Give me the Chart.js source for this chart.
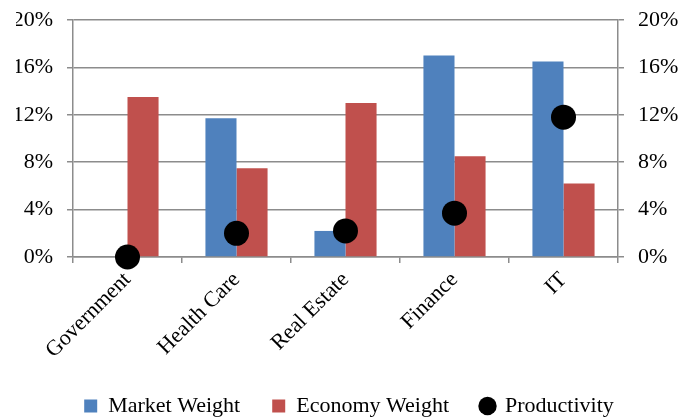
<!DOCTYPE html>
<html>
<head>
<meta charset="utf-8">
<script src="https://cdn.jsdelivr.net/npm/chart.js@4.4.1/dist/chart.umd.min.js"></script>
<style>
    html, body { margin: 0; padding: 0; background: #fff; }
    #wrap { width: 682px; height: 418px; }
</style>
</head>
<body>
<div id="wrap"><canvas id="weights"></canvas></div>
<script>
var sectors = ["Government", "Health Care", "Real Estate", "Finance", "IT"];
var marketWeight = [0, 11.7, 2.2, 17.0, 16.5];
var economyWeight = [13.5, 7.5, 13.0, 8.5, 6.2];
var productivity = [0, 2.0, 2.2, 3.7, 11.8];
var tickValues = [0, 4, 8, 12, 16, 20];

var serif = "'Liberation Serif', 'DejaVu Serif', serif";
var gridGray = "#8c8c8c";

function pct(v) { return v + '%'; }

// same look for both value axes
function valueAxis(side, width) {
    return {
        type: 'linear',
        position: side,
        min: 0,
        max: 20,
        afterBuildTicks: function(axis) {
            axis.ticks = tickValues.map(function(v) { return { value: v }; });
        },
        afterFit: function(axis) {
            axis.width = width;
            axis.paddingTop = 0;
            axis.paddingBottom = 0;
        },
        ticks: {
            callback: pct,
            color: '#000',
            padding: 14,
            font: { family: serif, size: 22 }
        },
        grid: {
            color: gridGray,
            lineWidth: 1.5,
            tickLength: 6,
            drawOnChartArea: side === 'left'
        },
        border: { color: gridGray, width: 1.5 }
    };
}

var ctx = document.getElementById('weights');
var myChart = new Chart(ctx, {
    type: 'bar',
    data: {
        labels: sectors,
        datasets: [
            {
                label: "Market Weight",
                backgroundColor: "#4f81bd",
                pointStyle: 'rect',
                data: marketWeight,
                order: 1
            },
            {
                label: "Economy Weight",
                backgroundColor: "#c0504d",
                pointStyle: 'rect',
                data: economyWeight,
                order: 1
            },
            {
                type: 'line',
                label: "Productivity",
                data: productivity,
                showLine: false,
                pointStyle: 'circle',
                pointRadius: 12.5,
                pointHoverRadius: 12.5,
                pointBackgroundColor: "#000",
                pointBorderWidth: 0,
                backgroundColor: "#000",
                borderColor: "#000",
                clip: false,
                order: 0
            }
        ]
    },
    options: {
        responsive: true,
        maintainAspectRatio: false,
        animation: false,
        // left padding nudges the legend right, like the original
        layout: { padding: { top: 20, left: 16, right: 0, bottom: -9 } },
        datasets: {
            bar: { barPercentage: 1, categoryPercentage: 0.57 }
        },
        scales: {
            x: {
                offset: true,
                afterFit: function(axis) { axis.height = 106; },
                ticks: {
                    color: '#000',
                    minRotation: 45,
                    maxRotation: 45,
                    padding: 4,
                    font: { family: serif, size: 22 }
                },
                grid: {
                    offset: true,
                    color: gridGray,
                    lineWidth: 1.5,
                    tickLength: 6,
                    drawOnChartArea: false
                },
                border: { color: gridGray, width: 1.5 }
            },
            y: valueAxis('left', 57),
            y2: valueAxis('right', 64)
        },
        plugins: {
            tooltip: { enabled: false },
            legend: {
                position: 'bottom',
                labels: {
                    usePointStyle: true,
                    boxWidth: 13,
                    boxHeight: 13,
                    padding: 32,
                    color: '#000',
                    font: { family: serif, size: 22 },
                    sort: function(a, b) { return a.datasetIndex - b.datasetIndex; }
                }
            }
        }
    }
});
</script>
</body>
</html>
